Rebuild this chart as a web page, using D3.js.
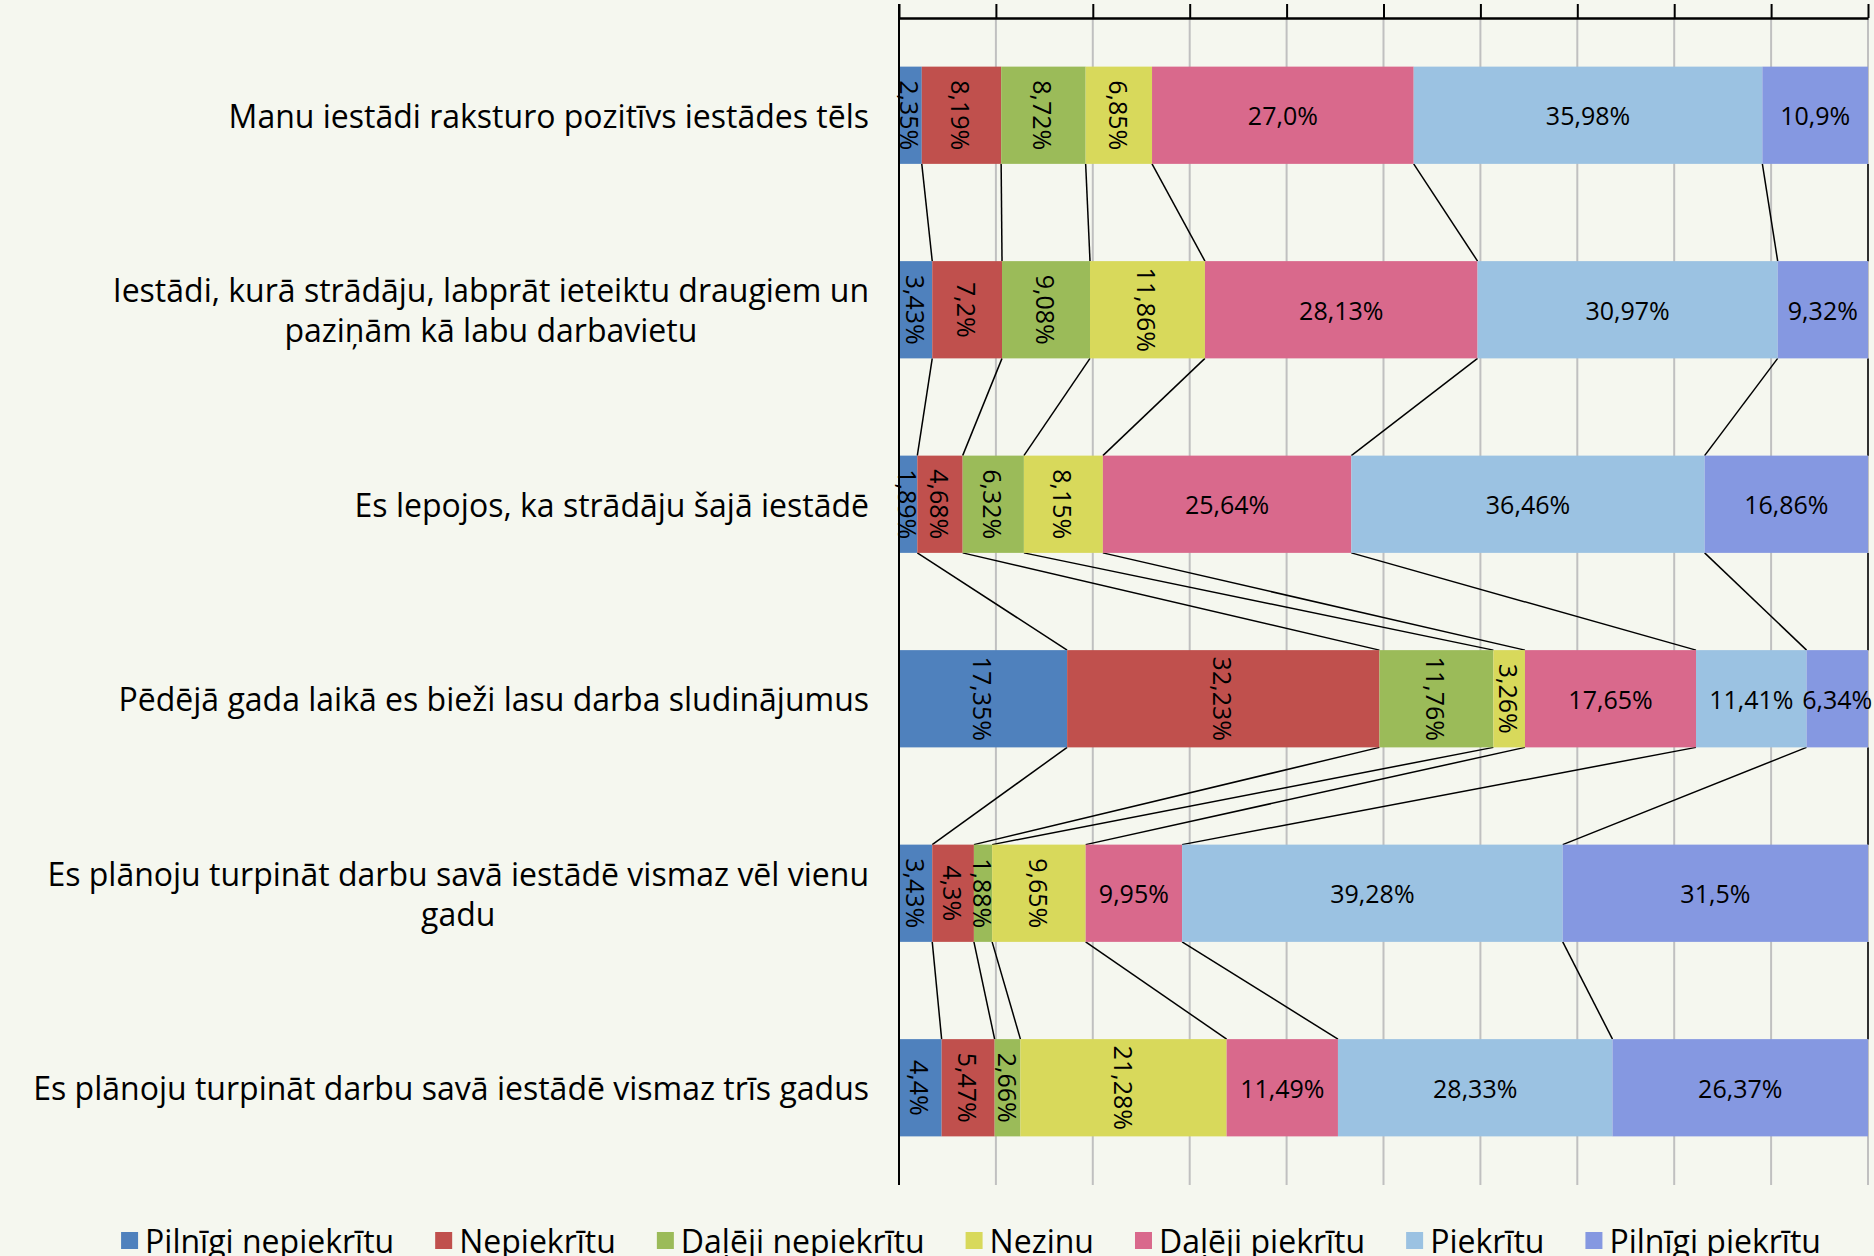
<!DOCTYPE html>
<html>
<head>
<meta charset="utf-8">
<script src="https://cdn.jsdelivr.net/npm/d3@7"></script>
<style>
  body { margin: 0; background: #f5f7ef; }
  svg { display: block; }
  text { font-family: "Open Sans", sans-serif; fill: #000; }
</style>
</head>
<body>
<svg id="chart" width="1874" height="1256"></svg>
<script>
// categories (top to bottom), line breaks as in the original
const categories = [
  "Manu iestādi raksturo pozitīvs iestādes tēls",
  "Iestādi, kurā strādāju, labprāt ieteiktu draugiem un\npaziņām kā labu darbavietu",
  "Es lepojos, ka strādāju šajā iestādē",
  "Pēdējā gada laikā es bieži lasu darba sludinājumus",
  "Es plānoju turpināt darbu savā iestādē vismaz vēl vienu\ngadu",
  "Es plānoju turpināt darbu savā iestādē vismaz trīs gadus"
];

const seriesNames = ["Pilnīgi nepiekrītu", "Nepiekrītu", "Daļēji nepiekrītu", "Nezinu",
                     "Daļēji piekrītu", "Piekrītu", "Pilnīgi piekrītu"];

// one value per category (percent)
const pilnigiNepiekritu = [2.35, 3.43, 1.89, 17.35, 3.43, 4.4];
const nepiekritu        = [8.19, 7.2, 4.68, 32.23, 4.3, 5.47];
const daleji_nepiekritu = [8.72, 9.08, 6.32, 11.76, 1.88, 2.66];
const nezinu            = [6.85, 11.86, 8.15, 3.26, 9.65, 21.28];
const daleji_piekritu   = [27.0, 28.13, 25.64, 17.65, 9.95, 11.49];
const piekritu          = [35.98, 30.97, 36.46, 11.41, 39.28, 28.33];
const pilnigiPiekritu   = [10.9, 9.32, 16.86, 6.34, 31.5, 26.37];

// data label text as printed on the chart
const labelText = [
  ["2,35%", "8,19%", "8,72%", "6,85%", "27,0%", "35,98%", "10,9%"],
  ["3,43%", "7,2%", "9,08%", "11,86%", "28,13%", "30,97%", "9,32%"],
  ["1,89%", "4,68%", "6,32%", "8,15%", "25,64%", "36,46%", "16,86%"],
  ["17,35%", "32,23%", "11,76%", "3,26%", "17,65%", "11,41%", "6,34%"],
  ["3,43%", "4,3%", "1,88%", "9,65%", "9,95%", "39,28%", "31,5%"],
  ["4,4%", "5,47%", "2,66%", "21,28%", "11,49%", "28,33%", "26,37%"]
];

const xTicks = [0, 10, 20, 30, 40, 50, 60, 70, 80, 90, 100];

const colors = ["#4f81bd", "#c0504d", "#9bbb59", "#d8d95b", "#d9698c", "#9bc2e2", "#8598e1"];

const seriesValues = [pilnigiNepiekritu, nepiekritu, daleji_nepiekritu, nezinu,
                      daleji_piekritu, piekritu, pilnigiPiekritu];

const svg = d3.select("#chart");
const plotLeft = 899, plotRight = 1868, plotTop = 18, plotBottom = 1185;

const x = d3.scaleLinear().domain([0, 100]).range([plotLeft, plotRight]);
const y = d3.scaleBand().domain(d3.range(categories.length))
  .range([plotTop, plotBottom]).paddingInner(0.5).paddingOuter(0.25);

// stack rows
const rows = categories.map((c, i) => {
  let acc = 0;
  const vals = seriesValues.map(s => s[i]);
  const total = d3.sum(vals);
  return vals.map((v, j) => {
    const seg = { row: i, s: j, x0: acc / total * 100, x1: (acc + v) / total * 100, label: labelText[i][j] };
    acc += v;
    return seg;
  });
});

// gridlines
svg.append("g").selectAll("line").data(xTicks.slice(1)).join("line")
  .attr("x1", d => x(d)).attr("x2", d => x(d))
  .attr("y1", plotTop).attr("y2", plotBottom)
  .attr("stroke", "#c0c0c0").attr("stroke-width", 2);

// series lines between consecutive bars
const slines = [];
for (let i = 0; i < rows.length - 1; i++) {
  rows[i].forEach((seg, j) => {
    slines.push({ x1: x(seg.x1), y1: y(i) + y.bandwidth(), x2: x(rows[i + 1][j].x1), y2: y(i + 1) });
  });
}
svg.append("g").selectAll("line").data(slines).join("line")
  .attr("x1", d => d.x1).attr("y1", d => d.y1)
  .attr("x2", d => d.x2).attr("y2", d => d.y2)
  .attr("stroke", "#000").attr("stroke-width", 1.5);

// bars
const barG = svg.append("g");
barG.selectAll("g").data(rows).join("g")
  .selectAll("rect").data(d => d).join("rect")
  .attr("x", d => x(d.x0))
  .attr("width", d => x(d.x1) - x(d.x0))
  .attr("y", d => y(d.row))
  .attr("height", y.bandwidth())
  .attr("fill", d => colors[d.s]);

// data labels (first four series are printed vertically)
svg.append("g").selectAll("text").data(rows.flat()).join("text")
  .attr("transform", d => {
    const cx = (x(d.x0) + x(d.x1)) / 2, cy = y(d.row) + y.bandwidth() / 2;
    return `translate(${cx},${cy})` + (d.s < 4 ? " rotate(90)" : "");
  })
  .attr("text-anchor", "middle")
  .attr("dominant-baseline", "central")
  .style("font-size", "25px")
  .text(d => d.label);

// top axis
const axis = svg.append("g").attr("transform", `translate(0,${plotTop})`)
  .call(d3.axisTop(x).tickValues(xTicks).tickSize(14).tickSizeOuter(0).tickFormat(""));
axis.select(".domain").attr("stroke", "#000").attr("stroke-width", 2.5);
axis.selectAll(".tick line").attr("stroke", "#000").attr("stroke-width", 2);

// left axis line
svg.append("line").attr("x1", plotLeft).attr("x2", plotLeft).attr("y1", plotTop - 14).attr("y2", plotBottom)
  .attr("stroke", "#000").attr("stroke-width", 2);

// category labels: block right-aligned to the axis, lines centred within it
const lineH = 40, labelRight = 869;
categories.forEach((c, i) => {
  const lines = c.split("\n");
  const g = svg.append("g");
  const t = g.selectAll("text").data(lines).join("text")
    .style("font-size", "32px")
    .attr("dominant-baseline", "central")
    .text(d => d);
  const w = d3.max(t.nodes(), n => n.getComputedTextLength());
  const cy = y(i) + y.bandwidth() / 2;
  t.attr("text-anchor", "middle")
    .attr("x", labelRight - w / 2)
    .attr("y", (d, k) => cy + (k - (lines.length - 1) / 2) * lineH);
});

// legend
const legend = svg.append("g");
const items = legend.selectAll("g").data(seriesNames).join("g");
items.append("rect").attr("width", 17).attr("height", 17).attr("y", -8)
  .attr("fill", (d, i) => colors[i]);
items.append("text").attr("x", 24).attr("dominant-baseline", "central")
  .style("font-size", "32px").text(d => d);
let lx = 0;
const gap = 41;
items.each(function () {
  const w = this.getBBox().width;
  d3.select(this).attr("data-x", lx);
  lx += w + gap;
});
const legendW = lx - gap;
items.attr("transform", function () {
  return `translate(${971 - legendW / 2 + (+this.getAttribute("data-x"))},1240)`;
});
</script>
</body>
</html>
